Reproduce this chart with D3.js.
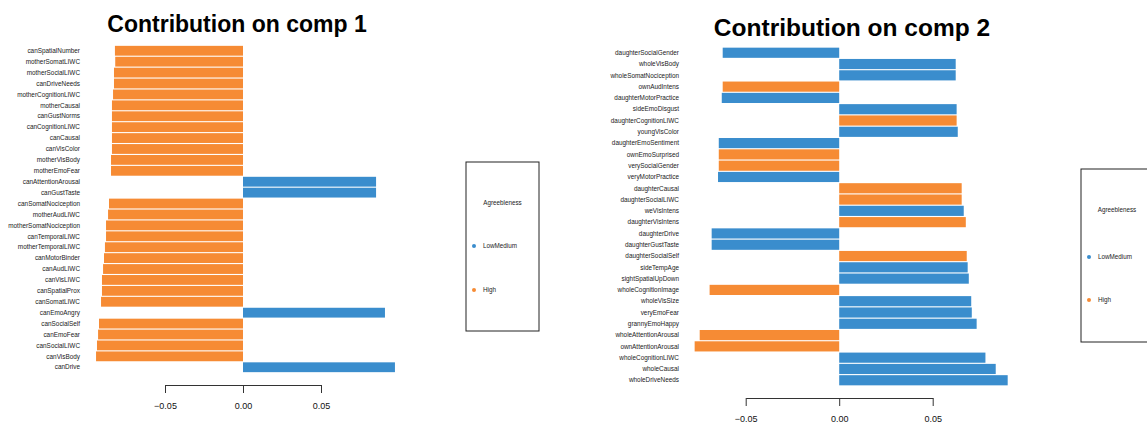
<!DOCTYPE html>
<html>
<head>
<meta charset="utf-8">
<script src="https://cdn.jsdelivr.net/npm/d3@7"></script>
<style>
  html, body { margin: 0; padding: 0; background: #fff; }
  svg { display: block; font-family: "Liberation Sans", Arial, Helvetica, sans-serif; }
</style>
</head>
<body>
<svg id="chart" width="1147" height="429"></svg>
<script>
// Contributions of variables on component 1
const labels1 = ["canSpatialNumber","motherSomatLIWC","motherSocialLIWC","canDriveNeeds","motherCognitionLIWC",
  "motherCausal","canGustNorms","canCognitionLIWC","canCausal","canVisColor","motherVisBody","motherEmoFear",
  "canAttentionArousal","canGustTaste","canSomatNociception","motherAudLIWC","motherSomatNociception",
  "canTemporalLIWC","motherTemporalLIWC","canMotorBinder","canAudLIWC","canVisLIWC","canSpatialProx",
  "canSomatLIWC","canEmoAngry","canSocialSelf","canEmoFear","canSocialLIWC","canVisBody","canDrive"];
const values1 = [-0.0821,-0.0819,-0.0827,-0.0827,-0.0833,-0.0840,-0.0840,-0.0840,-0.0840,-0.0840,-0.0846,-0.0846,
  0.0853,0.0853,-0.0859,-0.0865,-0.0878,-0.0878,-0.0885,-0.0891,-0.0897,-0.0904,-0.0904,-0.0910,
  0.0910,-0.0923,-0.0929,-0.0936,-0.0942,0.0974];
const groups1 = ["High","High","High","High","High","High","High","High","High","High","High","High",
  "LowMedium","LowMedium","High","High","High","High","High","High","High","High","High","High",
  "LowMedium","High","High","High","High","LowMedium"];

// Contributions of variables on component 2
const labels2 = ["daughterSocialGender","wholeVisBody","wholeSomatNociception","ownAudIntens","daughterMotorPractice",
  "sideEmoDisgust","daughterCognitionLIWC","youngVisColor","daughterEmoSentiment","ownEmoSurprised",
  "verySocialGender","veryMotorPractice","daughterCausal","daughterSocialLIWC","weVisIntens","daughterVisIntens",
  "daughterDrive","daughterGustTaste","daughterSocialSelf","sideTempAge","sightSpatialUpDown","wholeCognitionImage",
  "wholeVisSize","veryEmoFear","grannyEmoHappy","wholeAttentionArousal","ownAttentionArousal",
  "wholeCognitionLIWC","wholeCausal","wholeDriveNeeds"];
const values2 = [-0.0623,0.0623,0.0623,-0.0623,-0.0628,0.0628,0.0628,0.0634,-0.0644,-0.0644,
  -0.0644,-0.0648,0.0655,0.0655,0.0666,0.0677,-0.0682,-0.0682,0.0682,0.0687,0.0693,-0.0693,
  0.0706,0.0709,0.0735,-0.0746,-0.0773,0.0782,0.0837,0.0901];
const groups2 = ["LowMedium","LowMedium","LowMedium","High","LowMedium","LowMedium","High","LowMedium","LowMedium","High",
  "High","LowMedium","High","High","LowMedium","High","LowMedium","LowMedium","High","LowMedium","LowMedium","High",
  "LowMedium","LowMedium","LowMedium","High","High","LowMedium","LowMedium","LowMedium"];

const tickValues = [-0.05, 0, 0.05];
const legendKeys = ["LowMedium", "High"];
const legendTitle = "Agreebleness";

const color = d3.scaleOrdinal().domain(legendKeys).range(["#3a8dcd", "#f68b34"]);
const svg = d3.select("#chart");

function panel(cfg) {
  const { labels, values, groups, title } = cfg;
  const x = d3.scaleLinear().domain([-0.05, 0.05]).range(cfg.xRange);
  const y = d3.scaleBand().domain(labels).range(cfg.yRange).paddingInner(0.1).paddingOuter(0.05);
  const g = svg.append("g");

  g.append("text")
    .attr("x", cfg.titleX).attr("y", cfg.titleY)
    .attr("text-anchor", "middle")
    .attr("font-weight", "bold")
    .attr("font-size", cfg.titleSize)
    .attr("fill", "#000")
    .text(title);

  g.selectAll("rect.bar")
    .data(labels.map((l, i) => ({ label: l, value: values[i], group: groups[i] })))
    .join("rect")
    .attr("class", "bar")
    .attr("x", d => Math.min(x(0), x(d.value)))
    .attr("y", d => y(d.label))
    .attr("width", d => Math.abs(x(d.value) - x(0)))
    .attr("height", y.bandwidth())
    .attr("fill", d => color(d.group));

  g.selectAll("text.lab")
    .data(labels)
    .join("text")
    .attr("class", "lab")
    .attr("x", cfg.labelX)
    .attr("y", d => y(d) + y.bandwidth() / 2)
    .attr("dy", "0.35em")
    .attr("text-anchor", "end")
    .attr("font-size", cfg.labelSize)
    .attr("fill", "#1a1a1a")
    .text(d => d);

  const axis = d3.axisBottom(x)
    .tickValues(tickValues)
    .tickFormat(d3.format(".2f"))
    .tickSizeInner(8)
    .tickSizeOuter(0)
    .tickPadding(10);
  const ag = g.append("g")
    .attr("transform", `translate(0,${cfg.axisY})`)
    .call(axis);
  ag.select(".domain").attr("stroke", "#333");
  ag.selectAll(".tick line").attr("stroke", "#333");
  ag.selectAll(".tick text").attr("font-size", 9).attr("fill", "#111")
    .attr("font-family", "Liberation Sans, Arial, sans-serif");

  // legend box
  const L = cfg.legend;
  const lg = g.append("g");
  lg.append("rect")
    .attr("x", L.x).attr("y", L.y).attr("width", L.w).attr("height", L.h)
    .attr("fill", "none").attr("stroke", "#222").attr("stroke-width", 1);
  lg.append("text")
    .attr("x", L.x + L.w / 2 - (L.titleShift || 0)).attr("y", L.titleY)
    .attr("text-anchor", "middle").attr("dy", "0.35em")
    .attr("font-size", 6.3).attr("fill", "#222")
    .text(legendTitle);
  legendKeys.forEach((k, i) => {
    const ky = L.keyY[i];
    lg.append("circle").attr("cx", L.dotX).attr("cy", ky).attr("r", 2).attr("fill", color(k));
    lg.append("text").attr("x", L.dotX + 9).attr("y", ky).attr("dy", "0.35em")
      .attr("font-size", 6.3).attr("fill", "#222").text(k);
  });
}

panel({
  labels: labels1, values: values1, groups: groups1,
  title: "Contribution on comp 1",
  titleX: 237, titleY: 32, titleSize: 23,
  xRange: [165, 321], yRange: [45.3, 372.7],
  labelX: 80, labelSize: 6.4,
  axisY: 385,
  legend: { x: 466, y: 162, w: 73, h: 169, titleY: 203, dotX: 474, keyY: [246, 290] }
});

panel({
  labels: labels2, values: values2, groups: groups2,
  title: "Contribution on comp 2",
  titleX: 852, titleY: 36, titleSize: 24.5,
  xRange: [745.7, 932.7], yRange: [47.1, 385.9],
  labelX: 679, labelSize: 6.4,
  axisY: 398,
  legend: { x: 1081, y: 169, w: 80, h: 173, titleY: 210, titleShift: 4, dotX: 1089, keyY: [257, 300] }
});
</script>
</body>
</html>
